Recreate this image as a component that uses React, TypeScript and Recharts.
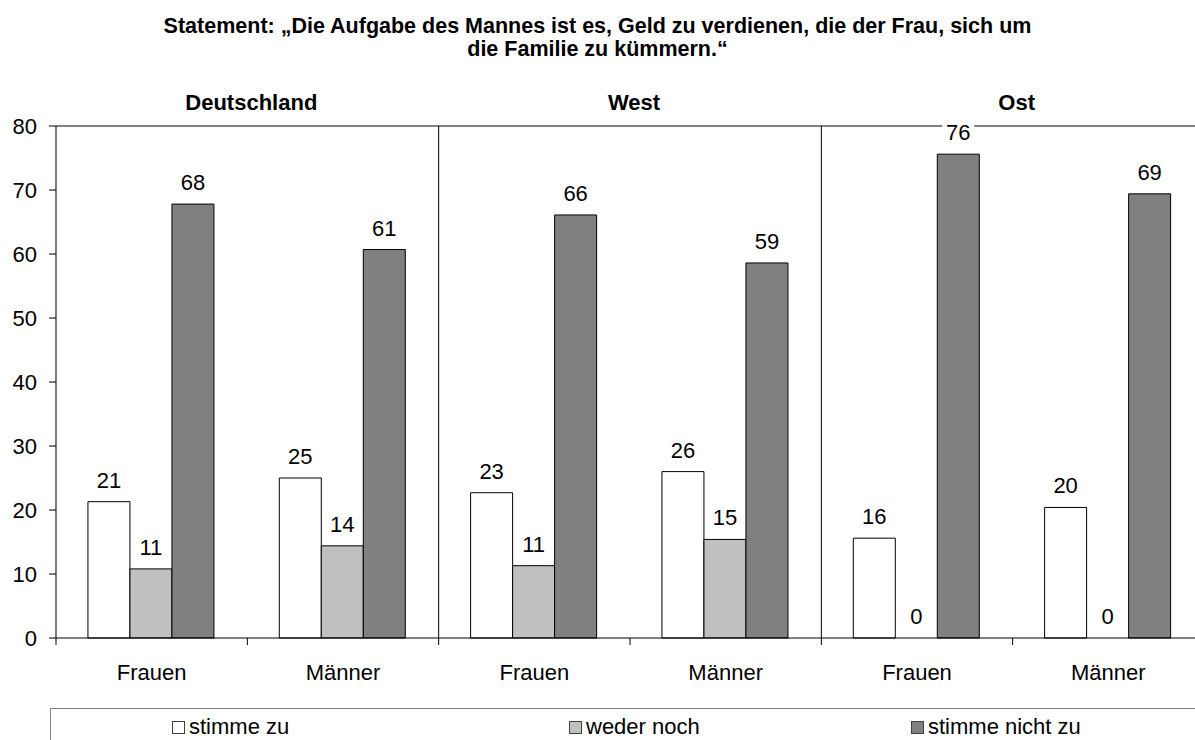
import { Bar, BarChart, LabelList, Legend, ReferenceLine, XAxis, YAxis } from 'recharts';

const categories = ['Frauen', 'Männer', 'Frauen', 'Männer', 'Frauen', 'Männer'];
const regions = ['Deutschland', 'West', 'Ost'];
const stimmeZu = [21.3, 25.0, 22.7, 26.0, 15.6, 20.4];
const wederNoch = [10.8, 14.4, 11.3, 15.4, 0, 0];
const stimmeNichtZu = [67.8, 60.7, 66.1, 58.6, 75.6, 69.4];
const seriesNames = ['stimme zu', 'weder noch', 'stimme nicht zu'];
const yTicks = [0, 10, 20, 30, 40, 50, 60, 70, 80];

// unique key per bar group, since the gender labels repeat
const data = categories.map((name, i) => ({
  key: `${regions[Math.floor(i / 2)]} ${name}`,
  name,
  zu: stimmeZu[i],
  weder: wederNoch[i],
  nicht: stimmeNichtZu[i],
}));

const seriesColors = ['#ffffff', '#c0c0c0', '#808080'];
const font = '"Liberation Sans", Arial, sans-serif';
const legendLeft = [121, 518, 860];

function BottomTick(props: any) {
  const { x, y, payload } = props;
  const off = payload.offset ?? 0;
  const i = payload.index ?? 0;
  return (
    <g>
      <line x1={x - off} x2={x - off} y1={y} y2={y + 7} stroke="#000" />
      {i === categories.length - 1 && <line x1={x + off} x2={x + off} y1={y} y2={y + 7} stroke="#000" />}
      <text x={x} y={y + 42} textAnchor="middle" fontSize={22} fontFamily={font} fill="#000">
        {categories[i]}
      </text>
    </g>
  );
}

function TopTick(props: any) {
  const { x, y, payload } = props;
  const off = payload.offset ?? 0;
  const i = payload.index ?? 0;
  if (i % 2 !== 0) return <g />;
  return (
    <text x={x + off + 4} y={y - 16} textAnchor="middle" fontSize={22} fontWeight="bold" fontFamily={font} fill="#000">
      {regions[i / 2]}
    </text>
  );
}

function labelAt(cx: number, by: number, value: number) {
  const txt = String(Math.round(value));
  const w = txt.length * 13 + 6;
  return (
    <g>
      <rect x={cx - w / 2} y={by - 18} width={w} height={20} fill="#fff" />
      <text x={cx} y={by} textAnchor="middle" fontSize={22} fontFamily={font} fill="#000">
        {txt}
      </text>
    </g>
  );
}

function ValueLabel(props: any) {
  const { x, y, width, value } = props;
  return labelAt(x + width / 2, y - 14, value);
}

// recharts drops zero-height bars (and their labels), so the "0" of "weder noch"
// is drawn from the neighbouring "stimme nicht zu" bar, one bar width to the left
function ZeroNeighbourLabel(props: any) {
  const { x, y, width, height, value } = props;
  if (value !== 0) return <g />;
  return labelAt(x - width / 2, y + height - 14, 0);
}

function LegendBox() {
  return (
    <div
      style={{
        position: 'relative',
        height: 32,
        boxSizing: 'border-box',
        borderTop: '1px solid #808080',
        borderLeft: '1px solid #808080',
        background: '#fff',
        fontFamily: font,
        fontSize: 22,
      }}
    >
      {seriesNames.map((name, i) => (
        <div key={name} style={{ position: 'absolute', left: legendLeft[i], top: 7, display: 'flex', alignItems: 'center', lineHeight: '22px' }}>
          <span style={{ width: 11, height: 11, background: seriesColors[i], border: '1px solid #404040', marginRight: 4, display: 'inline-block' }} />
          <span>{name}</span>
        </div>
      ))}
    </div>
  );
}

export default function App() {
  return (
    <div style={{ position: 'fixed', left: 0, top: 0, width: 1195, height: 740, overflow: 'hidden', background: '#fff' }}>
      <div
        style={{
          position: 'absolute',
          left: 0,
          top: 15,
          width: 1195,
          textAlign: 'center',
          fontFamily: font,
          fontWeight: 'bold',
          fontSize: 21.5,
          lineHeight: '23px',
        }}
      >
        Statement: „Die Aufgabe des Mannes ist es, Geld zu verdienen, die der Frau, sich um
        <br />
        die Familie zu kümmern.“
      </div>
      <BarChart
        width={1240}
        height={740}
        data={data}
        margin={{ top: 86, right: 36, left: 0, bottom: 0 }}
        barCategoryGap="16.7%"
        barGap={0}
        style={{ position: 'absolute', left: 0, top: 0 }}
      >
        <XAxis
          xAxisId="cat"
          dataKey="key"
          interval={0}
          height={70}
          tickLine={false}
          tickSize={0}
          tickMargin={0}
          axisLine={{ stroke: '#000' }}
          tick={<BottomTick />}
        />
        <XAxis
          xAxisId="top"
          dataKey="key"
          orientation="top"
          interval={0}
          height={40}
          tickLine={false}
          tickSize={0}
          tickMargin={0}
          axisLine={false}
          tick={<TopTick />}
        />
        <YAxis
          domain={[0, 80]}
          ticks={yTicks}
          interval={0}
          width={56}
          tickSize={7}
          tickMargin={12}
          axisLine={{ stroke: '#000' }}
          tickLine={{ stroke: '#000' }}
          tick={{ fontSize: 22, fill: '#000', fontFamily: font }}
        />
        <ReferenceLine xAxisId="cat" y={80} stroke="#808080" strokeWidth={2} />
        <ReferenceLine xAxisId="cat" x={data[2].key} position="start" stroke="#000" />
        <ReferenceLine xAxisId="cat" x={data[4].key} position="start" stroke="#000" />
        <Legend verticalAlign="bottom" content={<LegendBox />} wrapperStyle={{ left: 50, bottom: 0, width: 1200, height: 32 }} />
        <Bar xAxisId="cat" dataKey="zu" name={seriesNames[0]} fill={seriesColors[0]} stroke="#000" isAnimationActive={false}>
          <LabelList dataKey="zu" content={<ValueLabel />} />
        </Bar>
        <Bar xAxisId="cat" dataKey="weder" name={seriesNames[1]} fill={seriesColors[1]} stroke="#000" isAnimationActive={false}>
          <LabelList dataKey="weder" content={<ValueLabel />} />
        </Bar>
        <Bar xAxisId="cat" dataKey="nicht" name={seriesNames[2]} fill={seriesColors[2]} stroke="#000" isAnimationActive={false}>
          <LabelList dataKey="nicht" content={<ValueLabel />} />
          <LabelList dataKey="weder" content={<ZeroNeighbourLabel />} />
        </Bar>
      </BarChart>
    </div>
  );
}
